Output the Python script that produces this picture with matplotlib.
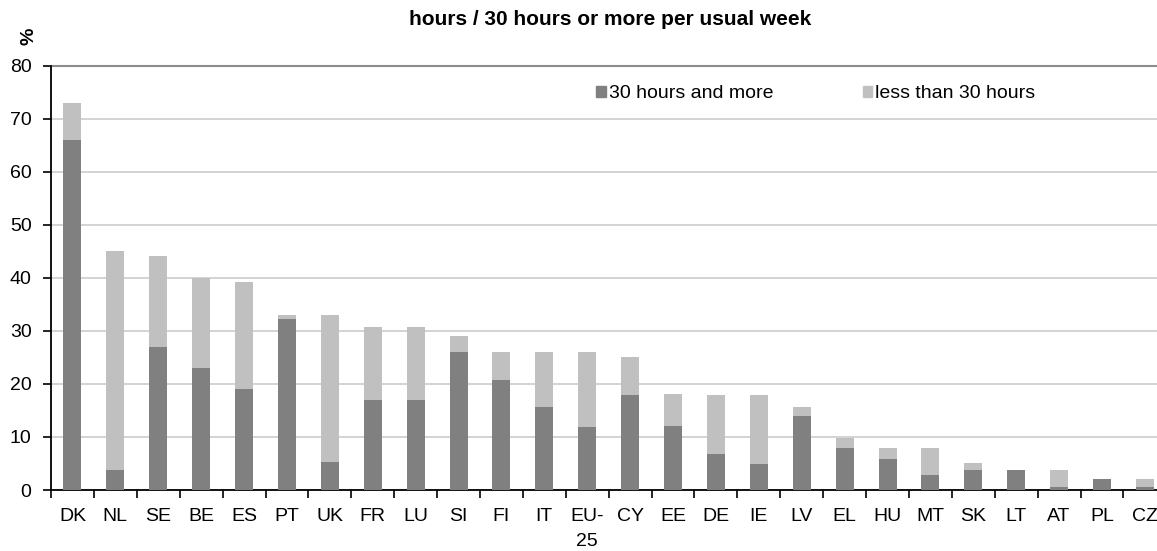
import numpy as np
import matplotlib.pyplot as plt
from matplotlib.patches import Patch

plt.rcParams['font.family'] = ['Liberation Sans', 'DejaVu Sans']

countries = ['DK', 'NL', 'SE', 'BE', 'ES', 'PT', 'UK', 'FR', 'LU', 'SI', 'FI', 'IT', 'EU-\n25',
             'CY', 'EE', 'DE', 'IE', 'LV', 'EL', 'HU', 'MT', 'SK', 'LT', 'AT', 'PL', 'CZ']
total = [73, 45, 44.2, 40, 39.2, 33, 33, 30.8, 30.8, 29, 26, 26, 26,
         25, 18.1, 18, 18, 15.7, 9.8, 8, 8, 5, 3.7, 3.7, 2, 2]
full = [66, 3.8, 27, 23, 19, 32.2, 5.2, 17, 17, 26, 20.8, 15.7, 11.9,
        18, 12, 6.8, 4.9, 14, 7.9, 5.8, 2.8, 3.7, 3.7, 0.6, 2, 0.6]
part = [t - f for t, f in zip(total, full)]

dark = '#808080'
light = '#c0c0c0'

fig = plt.figure(figsize=(11.57, 5.51), dpi=100)
ax = fig.add_axes([0.0441, 0.1107, 0.964, 0.770])

x = np.arange(len(countries))
ax.bar(x, full, width=0.42, color=dark, zorder=3)
ax.bar(x, part, bottom=full, width=0.42, color=light, zorder=3)

ax.set_xlim(-0.5, len(countries) - 0.5)
ax.set_ylim(0, 80)
ax.set_yticks(range(0, 81, 10))
ax.yaxis.grid(True, color='#cccccc', linewidth=1.2, zorder=0)
ax.axhline(80, color='#8c8c8c', linewidth=1.5, zorder=1, clip_on=False)
ax.set_axisbelow(True)

ax.set_xticks(x)
ax.set_xticklabels(countries, fontsize=14, linespacing=1.59)
ax.set_xticks(np.arange(-0.5, len(countries), 1), minor=True)
ax.tick_params(axis='x', which='major', length=0, pad=13)
ax.tick_params(axis='x', which='minor', length=6, width=1.2, direction='out')
ax.tick_params(axis='y', labelsize=14, length=6, width=1.2, direction='out', pad=8)

for s in ['top', 'right']:
    ax.spines[s].set_visible(False)
ax.spines['left'].set_linewidth(1.3)
ax.spines['bottom'].set_linewidth(1.3)

handles = [Patch(color=dark, label='30 hours and more'),
           Patch(color=light, label='less than 30 hours')]
fig.legend(handles=handles, loc='center left', bbox_to_anchor=(596 / 1157, 1 - 94 / 551),
           ncol=2, frameon=False, fontsize=14, handlelength=0.5, handleheight=0.5,
           handletextpad=0.15, columnspacing=4.6, borderpad=0, borderaxespad=0)

fig.text(610 / 1157, 1 - 25 / 551, 'hours / 30 hours or more per usual week',
         ha='center', va='baseline', fontsize=15, fontweight='bold')
fig.text(29 / 1157, 1 - 36 / 551, '%', rotation=90, ha='center', va='center',
         fontsize=14, fontweight='bold')

fig.savefig('out.png', dpi=100)
